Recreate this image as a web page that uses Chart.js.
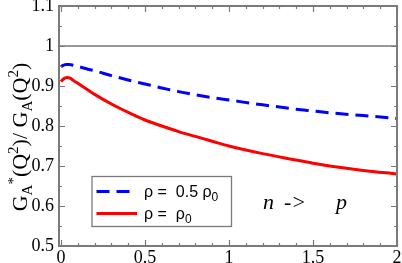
<!DOCTYPE html>
<html><head><meta charset="utf-8">
<script src="https://cdn.jsdelivr.net/npm/chart.js@4/dist/chart.umd.min.js"></script>
</head><body style="margin:0;background:#fff">
<canvas id="c" width="402" height="263" style="display:block"></canvas>
<script>
// ---- data ----
const q2Values = [0, 0.01, 0.02, 0.03, 0.04, 0.05, 0.06, 0.08, 0.1, 0.12, 0.16, 0.2, 0.3, 0.4, 0.5, 0.6, 0.7, 0.8, 0.9, 1.0, 1.2, 1.4, 1.5, 1.6, 1.8, 2.0];
const ratioHalfRho0 = [0.948, 0.951, 0.953, 0.954, 0.954, 0.9535, 0.953, 0.951, 0.949, 0.947, 0.942, 0.938, 0.926, 0.915, 0.905, 0.895, 0.886, 0.878, 0.871, 0.865, 0.853, 0.842, 0.8375, 0.833, 0.826, 0.819];
const ratioRho0 = [0.911, 0.916, 0.919, 0.921, 0.9215, 0.9205, 0.918, 0.912, 0.907, 0.901, 0.890, 0.879, 0.855, 0.834, 0.815, 0.800, 0.786, 0.774, 0.762, 0.750, 0.731, 0.715, 0.707, 0.700, 0.689, 0.680];
const referenceX = [-0.012, 2];
const referenceY = [1, 1];
const xTickValues = [0, 0.5, 1, 1.5, 2];
const xTickLabels = ['0', '0.5', '1', '1.5', '2'];
const yTickValues = [0.5, 0.6, 0.7, 0.8, 0.9, 1.0, 1.1];
const yTickLabels = ['0.5', '0.6', '0.7', '0.8', '0.9', '1', '1.1'];
const legendLabels = ['\u03c1 =  0.5 \u03c1', '\u03c1 =  \u03c1'];
const reactionLabel = ['n', '->', 'p'];

const toXY = (xs, ys) => xs.map((x, i) => ({x: x, y: ys[i]}));

const SERIF = '"Liberation Serif"';
const SANS = '"Liberation Sans"';
const FRAME = '#7a7a7a';

// warm up the fonts on the real (attached) canvas before Chart.js takes it over
(function () {
  const t = document.getElementById('c').getContext('2d');
  t.font = '18px "Liberation Serif"'; t.fillText('0.5 GQ', 0, 10);
  t.font = 'italic 22px "Liberation Serif"'; t.fillText('n p', 0, 30);
  t.font = '16px "Liberation Sans"'; t.fillText('0.5', 0, 50);
  t.clearRect(0, 0, 402, 263);
})();

function fontStr(size, fam, italic) {
  return (italic ? 'italic ' : '') + size + 'px ' + fam;
}
function drawRich(ctx, parts, x, y) {
  let cx = x;
  parts.forEach(p => {
    ctx.font = fontStr(p[1], p[4] || SERIF, p[3]);
    ctx.fillText(p[0], cx, y + p[2]);
    cx += ctx.measureText(p[0]).width;
  });
  return cx - x;
}
function richWidth(ctx, parts) {
  let w = 0;
  parts.forEach(p => {
    ctx.font = fontStr(p[1], p[4] || SERIF, p[3]);
    w += ctx.measureText(p[0]).width;
  });
  return w;
}

const decorPlugin = {
  id: 'decor',
  afterDraw(chart) {
    const ctx = chart.ctx;
    const a = chart.chartArea;
    const xs = chart.scales.x, ys = chart.scales.y;
    ctx.save();
    ctx.strokeStyle = FRAME;
    ctx.lineWidth = 1.2;
    ctx.beginPath();
    for (let i = 0; i <= 20; i++) {
      const v = i / 10;
      const px = Math.round(xs.getPixelForValue(v)) + 0.5;
      const len = (i % 5 === 0) ? 6 : 3;
      ctx.moveTo(px, a.bottom); ctx.lineTo(px, a.bottom - len);
      ctx.moveTo(px, a.top); ctx.lineTo(px, a.top + len);
    }
    for (let i = 0; i <= 12; i++) {
      const v = 0.5 + i * 0.05;
      const py = Math.round(ys.getPixelForValue(v)) + 0.5;
      const len = (i % 2 === 0) ? 6 : 3;
      ctx.moveTo(a.left, py); ctx.lineTo(a.left + len, py);
      ctx.moveTo(a.right, py); ctx.lineTo(a.right - len, py);
    }
    ctx.stroke();
    ctx.lineWidth = 2;
    ctx.strokeRect(a.left, a.top, a.right - a.left, a.bottom - a.top);

    // legend box
    ctx.fillStyle = '#fff';
    ctx.fillRect(92, 176.5, 139.5, 50);
    ctx.lineWidth = 1.3;
    ctx.strokeStyle = FRAME;
    ctx.strokeRect(92, 176.5, 139.5, 50);
    ctx.lineWidth = 3;
    ctx.strokeStyle = '#0000ff';
    ctx.setLineDash([13, 7]);
    ctx.beginPath(); ctx.moveTo(96.5, 191.5); ctx.lineTo(133, 191.5); ctx.stroke();
    ctx.setLineDash([]);
    ctx.strokeStyle = '#ff0000';
    ctx.beginPath(); ctx.moveTo(96.5, 213.5); ctx.lineTo(137, 213.5); ctx.stroke();
    ctx.fillStyle = '#000';
    ctx.textBaseline = 'alphabetic';
    ctx.textAlign = 'left';
    drawRich(ctx, [[legendLabels[0], 16, 0, false, SANS], ['0', 12, 4, false, SANS]], 144, 197);
    drawRich(ctx, [[legendLabels[1], 16, 0, false, SANS], ['0', 12, 4, false, SANS]], 144, 219);

    // reaction label
    ctx.font = fontStr(22, SERIF, true);
    ctx.fillText(reactionLabel[0], 263, 209);
    ctx.fillText(reactionLabel[1], 284, 209);
    ctx.fillText(reactionLabel[2], 336, 209);

    // y axis title
    const fs = 22, ss = 15;
    const parts = [
      ['G', fs, 0], ['A', ss, 5], ['*', ss, -9], ['(Q', fs, 0], ['2', ss, -9], [')/ G', fs, 0],
      ['A', ss, 5], ['(Q', fs, 0], ['2', ss, -9], [')', fs, 0]
    ];
    const w = richWidth(ctx, parts);
    ctx.translate(27, 137);
    ctx.rotate(-Math.PI / 2);
    drawRich(ctx, parts, -w / 2, 0);
    ctx.restore();
  }
};

new Chart(document.getElementById('c'), {
  type: 'line',
  data: {
    datasets: [
      {data: toXY(referenceX, referenceY), borderColor: '#333', borderWidth: 1, pointRadius: 0, tension: 0},
      {data: toXY(q2Values, ratioHalfRho0), borderColor: '#0000ff', borderWidth: 3, borderDash: [13, 7], pointRadius: 0, cubicInterpolationMode: 'monotone'},
      {data: toXY(q2Values, ratioRho0), borderColor: '#ff0000', borderWidth: 3, pointRadius: 0, cubicInterpolationMode: 'monotone'}
    ]
  },
  options: {
    responsive: false,
    devicePixelRatio: 1,
    animation: false,
    layout: {padding: {left: 0, right: 5, top: 6, bottom: 0}},
    plugins: {legend: {display: false}, tooltip: {enabled: false}, title: {display: false}},
    scales: {
      x: {
        type: 'linear', min: -0.012, max: 2,
        grid: {display: false, drawTicks: false},
        border: {display: false},
        afterBuildTicks(s) { s.ticks = xTickValues.map(v => ({value: v})); },
        afterFit(s) { s.height = 17; s.paddingLeft = 0; s.paddingRight = 0; },
        ticks: {
          autoSkip: false, maxRotation: 0, padding: 1, color: '#000',
          font: {family: SERIF, size: 18},
          callback(v) { const i = xTickValues.indexOf(v); return i >= 0 ? xTickLabels[i] : ''; }
        }
      },
      y: {
        type: 'linear', min: 0.5, max: 1.1,
        grid: {display: false, drawTicks: false},
        border: {display: false},
        afterBuildTicks(s) { s.ticks = yTickValues.map(v => ({value: v})); },
        afterFit(s) { s.width = 59; s.paddingTop = 0; s.paddingBottom = 0; },
        ticks: {
          autoSkip: false, padding: 5, color: '#000',
          font: {family: SERIF, size: 18},
          callback(v) { const i = yTickValues.indexOf(v); return i >= 0 ? yTickLabels[i] : ''; }
        }
      }
    }
  },
  plugins: [decorPlugin]
});
</script>
</body>
</html>
